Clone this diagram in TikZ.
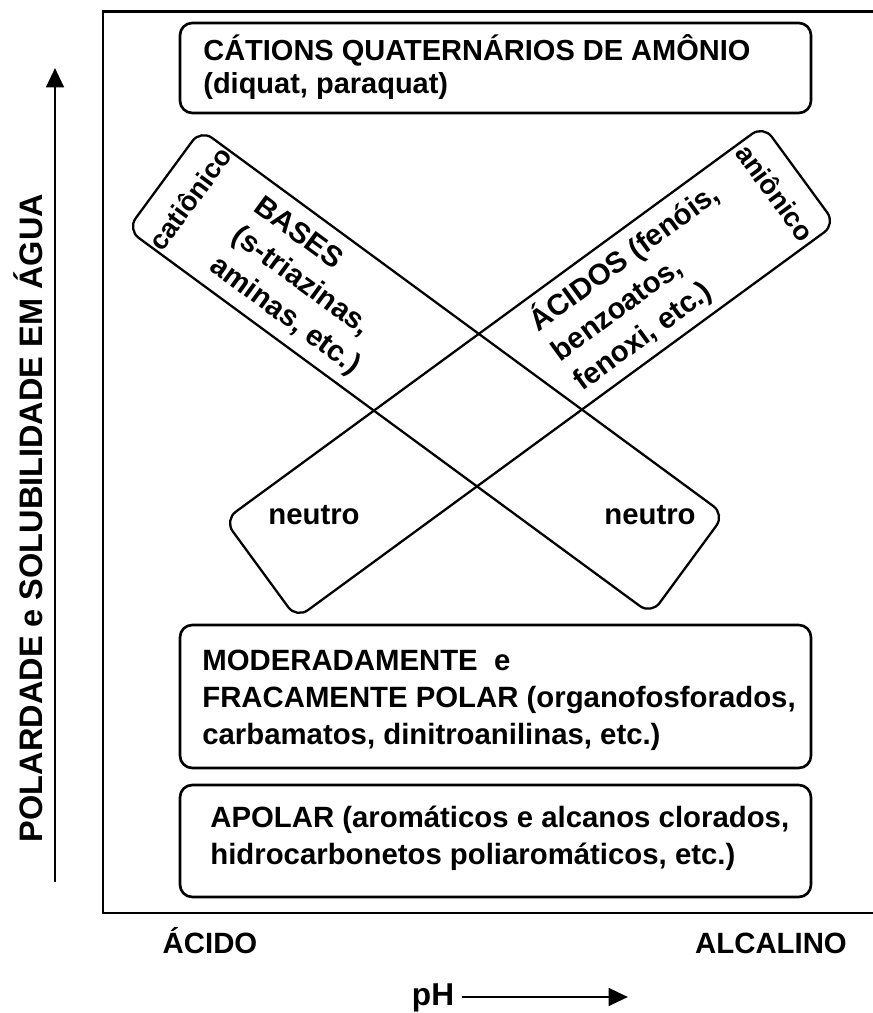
\documentclass[tikz,border=0pt]{standalone}
\usepackage{fontspec}
\setmainfont{Liberation Sans}
\usetikzlibrary{arrows.meta}

\tikzset{
  frame/.style={line width=1.7pt},
  classbox/.style={draw,line width=1.5pt,rounded corners=7pt},
  tiltbox/.style={draw,line width=1.3pt,rounded corners=8pt},
  txt/.style={font=\fontsize{16.7}{21}\selectfont\bfseries,inner sep=0pt},
  sidetxt/.style={font=\fontsize{15.5}{18}\selectfont\bfseries,inner sep=0pt},
  axislabel/.style={font=\fontsize{18.5}{20}\selectfont\bfseries,inner sep=0pt},
  axisarrow/.style={line width=1.5pt,-{Triangle[length=11pt,width=10pt]}}
}

\begin{document}
\begin{tikzpicture}[x=0.02cm,y=0.02cm]
  \useasboundingbox (0,0) rectangle (872,1013);

  % outer frame
  \draw[frame] (103,100) rectangle (878,1001);

  % top class
  \draw[classbox] (180,900) rectangle (811,990);
  \node[txt,anchor=west,align=left,font=\fontsize{16.5}{18.5}\selectfont\bfseries] (cations) at (203,946)
    {CÁTIONS QUATERNÁRIOS DE AMÔNIO\\(diquat, paraquat)};

  % bases (cationic -> neutral)
  \begin{scope}[shift={(426,641)},rotate=-36.3]
    \draw[tiltbox] (-325,-62) rectangle (325,62);
    \node[sidetxt,rotate=53.7] (cationico) at (-293,0) {catiônico};
    \node[txt,anchor=west,align=left,rotate=-36.3] (bases) at (-236,-2)
      {BASES\\(s-triazinas,\\aminas, etc.)};
  \end{scope}

  % acids (anionic -> neutral)
  \begin{scope}[shift={(530,641)},rotate=36.2]
    \draw[tiltbox] (-334,-61) rectangle (334,61);
    \node[sidetxt,rotate=-53.8] (anionico) at (304,0) {aniônico};
    \node[txt,anchor=west,align=left,rotate=36.2] (acidos) at (30,0)
      {ÁCIDOS (fenóis,\\benzoatos,\\fenoxi, etc.)};
  \end{scope}

  \node[txt] (neutroA) at (314,498) {neutro};
  \node[txt] (neutroB) at (650,498) {neutro};

  % lower classes
  \draw[classbox] (180,245) rectangle (811,388);
  \node[txt,anchor=west,align=left] (moderado) at (202,313)
    {MODERADAMENTE~~e\\FRACAMENTE POLAR (organofosforados,\\carbamatos, dinitroanilinas, etc.)};
  \draw[classbox] (180,116) rectangle (811,228);
  \node[txt,anchor=west,align=left] (apolar) at (210,175)
    {APOLAR (aromáticos e alcanos clorados,\\hidrocarbonetos poliaromáticos, etc.)};

  % axes
  \coordinate (ybot) at (55,131);
  \coordinate (ytop) at (55,945);
  \draw[axisarrow] (ybot) -- (ytop);
  \node[axislabel,rotate=90] (ylabel) at (28,495)
    {POLARDADE e SOLUBILIDADE EM ÁGUA};

  \node[txt,anchor=base] (acido) at (210,59) {ÁCIDO};
  \node[txt,anchor=base] (alcalino) at (771,59) {ALCALINO};
  \node[txt,anchor=base,font=\fontsize{18}{20}\selectfont\bfseries] (ph) at (433,8) {pH};
  \coordinate (phend) at (628,16);
  \draw[axisarrow] (ph.east |- phend) ++(8,0) -- (phend);
\end{tikzpicture}
\end{document}
